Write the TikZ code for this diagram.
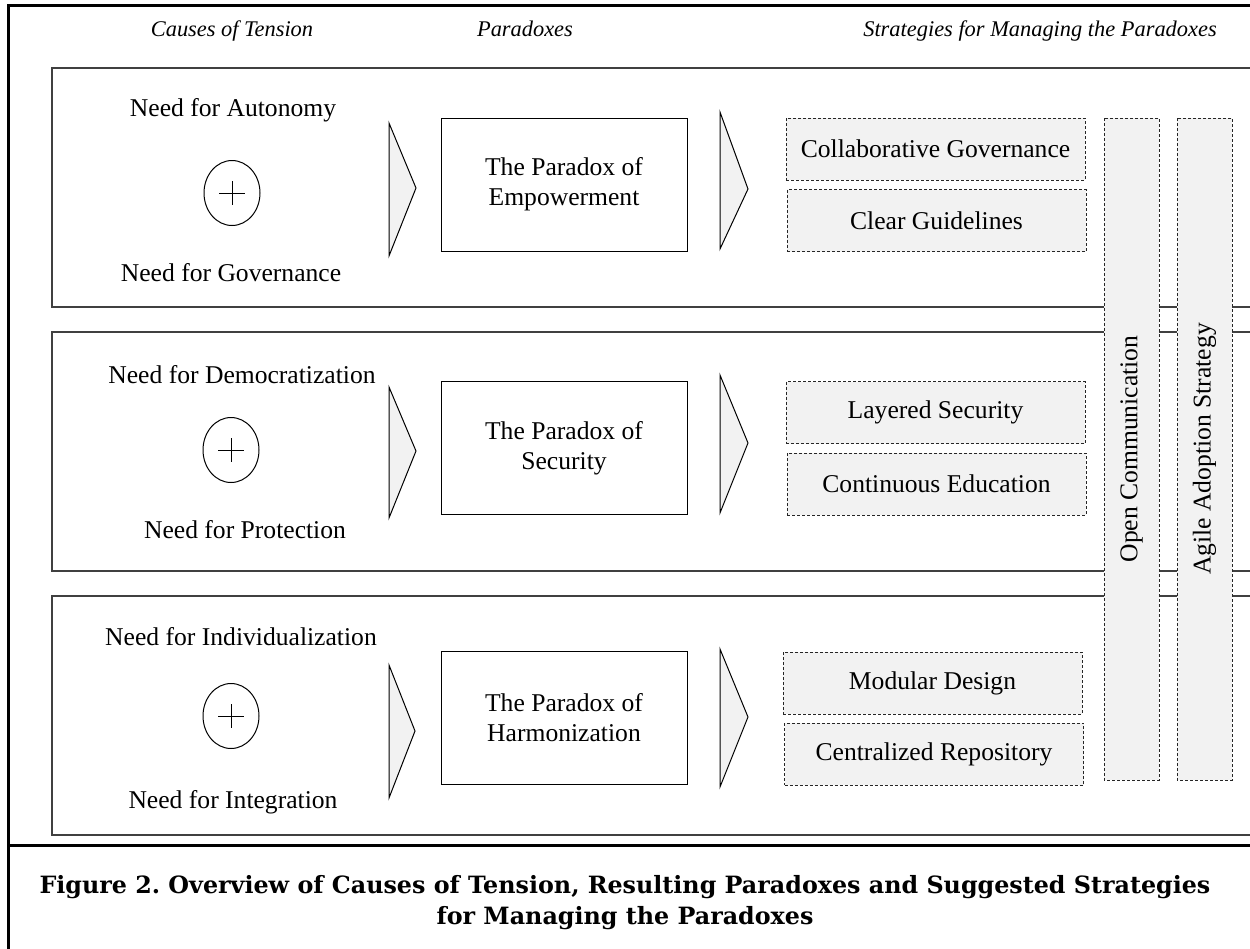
\documentclass[tikz,border=0pt]{standalone}
\usepackage{fontspec}
\setmainfont{Liberation Serif}
\newfontfamily\capfont{DejaVu Serif}
\usetikzlibrary{calc,shapes.geometric}
\definecolor{boxfill}{HTML}{F2F2F2}
\definecolor{panelline}{HTML}{404040}
\frenchspacing
\begin{document}
\begin{tikzpicture}[x=0.5pt,y=-0.5pt,
  panel/.style={draw=panelline, line width=0.65pt},
  frame/.style={draw=black, line width=1.5pt},
  chev/.style={draw=black, fill=boxfill, line width=0.5pt, line join=miter},
  body/.style={font=\fontsize{12.8}{15}\selectfont},
  head/.style={font=\itshape\fontsize{11.2}{13}\selectfont, anchor=base},
  need/.style={body, inner sep=0pt},
  plus/.style={draw=black, ellipse, line width=0.5pt, minimum width=28pt, minimum height=32.5pt, inner sep=0pt},
  parabox/.style={body, draw=black, line width=0.5pt, minimum width=123pt, minimum height=66.5pt, align=center, inner sep=0pt},
  strat/.style={body, draw=black!85, dash pattern=on 1.5pt off 1pt, fill=boxfill, line width=0.5pt, minimum width=149.5pt, minimum height=31pt, inner sep=0pt},
  bar/.style={body, draw=black!85, dash pattern=on 1.5pt off 1pt, fill=boxfill, line width=0.5pt, minimum width=331pt, minimum height=27.5pt, inner sep=0pt, rotate=90},
]
\useasboundingbox (0,0) rectangle (1250,949);

% outer frame and caption separator
\draw[frame] (1250,5) -- (8,5) -- (8,949);
\draw[frame] (8,845) -- (1250,845);

% column headings
\node[head] (h1) at (232,36) {Causes of Tension};
\node[head] (h2) at (525,36) {Paradoxes};
\node[head] (h3) at (1040,36) {Strategies for Managing the Paradoxes};

% panels (open at right)
\draw[panel] (1250,68) -- (52,68) -- (52,307) -- (1250,307);
\draw[panel] (1250,332) -- (52,332) -- (52,571) -- (1250,571);
\draw[panel] (1250,596) -- (52,596) -- (52,835) -- (1250,835);

% ---------- panel 1
\node[need] (a1) at (233,110) {Need for Autonomy};
\node[plus] (p1) at (232,193) {};
\node[need] (b1) at (231,273) {Need for Governance};
\draw[chev] (389,123) -- (416,188) -- (389,256) -- cycle;
\node[parabox] (x1) at (564,184.5) {The Paradox of\\Empowerment};
\draw[chev] (720,112) -- (748,189) -- (720,249) -- cycle;
\node[strat] (s1a) at (935.5,149) {Collaborative Governance};
\node[strat] (s1b) at (936.5,220.5) {Clear Guidelines};

% ---------- panel 2
\node[need] (a2) at (242,375) {Need for Democratization};
\node[plus] (p2) at (231,450) {};
\node[need] (b2) at (245,530) {Need for Protection};
\draw[chev] (389,387) -- (416,451) -- (389,518) -- cycle;
\node[parabox] (x2) at (564,448) {The Paradox of\\Security};
\draw[chev] (720,375) -- (748,443) -- (720,513) -- cycle;
\node[strat] (s2a) at (935.5,412.5) {Layered Security};
\node[strat] (s2b) at (936.5,484) {Continuous Education};

% ---------- panel 3
\node[need] (a3) at (241,637) {Need for Individualization};
\node[plus] (p3) at (231,716) {};
\node[need] (b3) at (233,802) {Need for Integration};
\draw[chev] (389,665) -- (415,731) -- (389,798) -- cycle;
\node[parabox] (x3) at (564,717.5) {The Paradox of\\Harmonization};
\draw[chev] (720,649) -- (748,717) -- (720,787) -- cycle;
\node[strat] (s3a) at (932.5,683) {Modular Design};
\node[strat] (s3b) at (934,754) {Centralized Repository};

% plus signs
\foreach \p in {p1,p2,p3}{
  \draw[line width=0.5pt] ($(\p)+(-13,0)$) -- ($(\p)+(13,0)$);
  \draw[line width=0.5pt] ($(\p)+(0,-12)$) -- ($(\p)+(0,12)$);
}

% vertical strategy bars
\node[bar] (oc) at (1131.5,449) {Open Communication};
\node[bar] (ag) at (1204.5,449) {Agile Adoption Strategy};

% caption
\node[font=\capfont\bfseries\fontsize{11.9}{15.5}\selectfont, align=center] (cap) at (625,902.5)
  {Figure 2. Overview of Causes of Tension, Resulting Paradoxes and Suggested Strategies\\for Managing the Paradoxes};
\end{tikzpicture}
\end{document}
